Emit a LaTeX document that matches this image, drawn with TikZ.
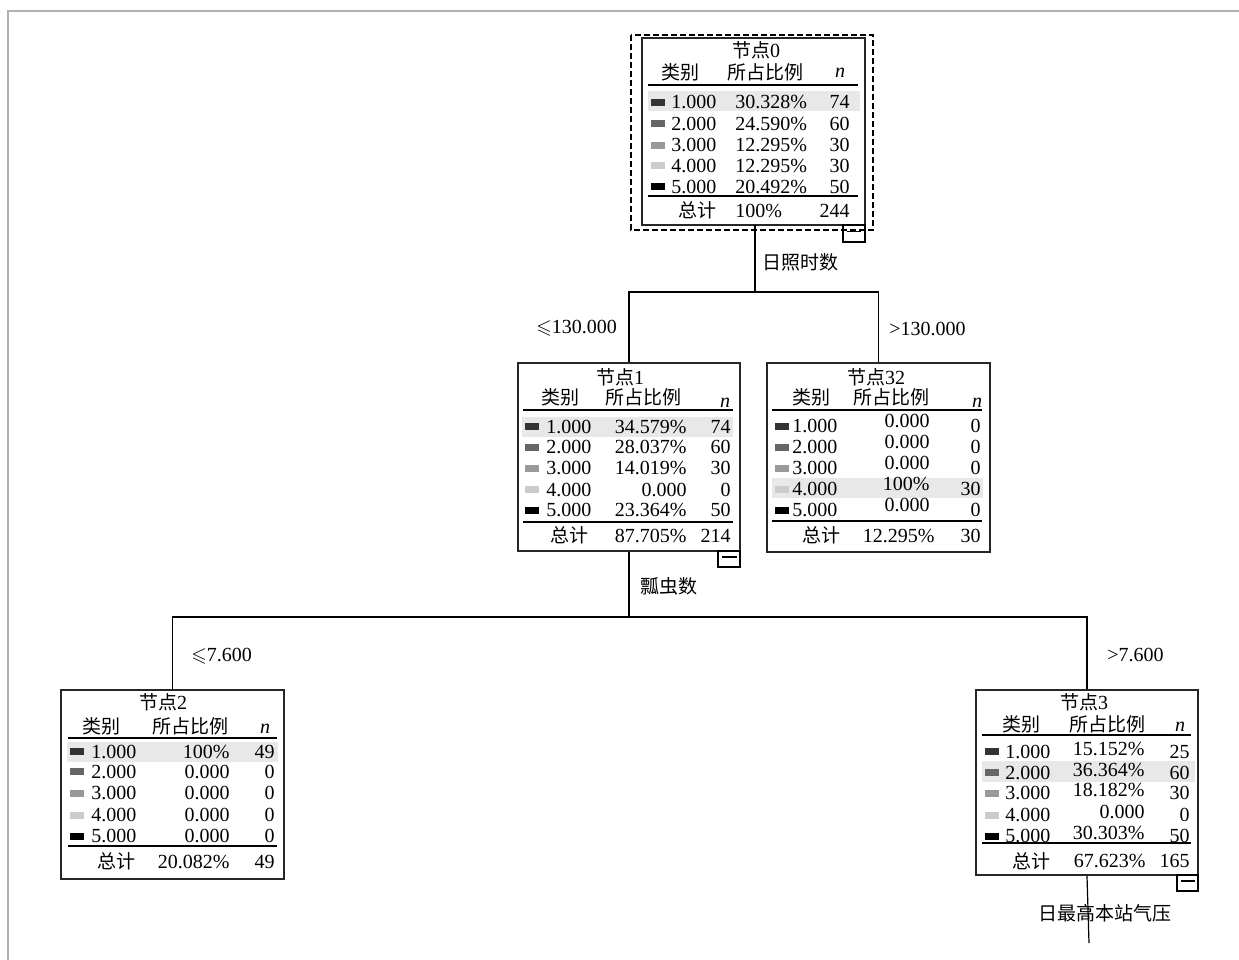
\documentclass[tikz,border=0pt]{standalone}
\usepackage{fontspec}
\usepackage{amssymb}
\setmainfont{Liberation Serif}
\newfontfamily\cjk{Noto Sans CJK SC}
\usetikzlibrary{fit}
\definecolor{sw1}{HTML}{333333}
\definecolor{sw2}{HTML}{666666}
\definecolor{sw3}{HTML}{999999}
\definecolor{sw4}{HTML}{CCCCCC}
\definecolor{sw5}{HTML}{000000}
\definecolor{bandc}{HTML}{E8E8E8}
\definecolor{framec}{HTML}{B0B0B0}
\newcommand\mkbox[5]{%
  \coordinate (#1nw) at (#2,#3);
  \coordinate (#1se) at (#4,#5);
  \node[tboxs, fit=(#1nw)(#1se)] (#1) {};}
\newcommand\crow[6]{%
  \fill[sw#2] (\SX,#3-3.5) rectangle (\SX+14,#3+3.5);
  \node[txt,anchor=base west] (#1l#2) at (\LX,#3+6.5) {#4};
  \node[txt,pcol] (#1p#2) at (\PX,#3+6.5+\PD) {#5};
  \node[txt,anchor=base east] (#1n#2) at (\NX,#3+6.5) {#6};}
\newcommand\hdr[6]{% prefix, y, x1, x2, xn, nbase
  \node[cj,anchor=west] (#1h1) at (#3,#2) {类别};
  \node[cj,anchor=west] (#1h2) at (#4,#2) {所占比例};
  \node[txt,anchor=base] (#1h3) at (#5,#6) {\textit{n}};}
\begin{document}
\begin{tikzpicture}[x=0.5pt,y=-0.5pt,
  txt/.style={inner sep=0pt, font=\fontsize{10}{12}\selectfont},
  cj/.style={inner sep=0pt, font=\cjk\fontsize{9.5}{11}\selectfont},
  tboxs/.style={draw=black!85, line width=0.8pt, inner sep=0pt},
  rule/.style={line width=0.65pt},
  conn/.style={line width=0.6pt},
  minusb/.style={line width=0.6pt},
  frame/.style={draw=framec, line width=1.2pt}]
\useasboundingbox (0,0) rectangle (1239,960);
\draw[frame] (7.7,960) -- (7.7,11) -- (1239,11);

% ---------------- node 0
\draw[line width=0.6pt, dash pattern=on 3pt off 1.5pt] (631,35) rectangle (873,230);
\mkbox{n0}{642}{38}{865}{225}
\fill[bandc] (648,91) rectangle (860,111);
\node[txt] (n0t) at (756,50) {{\cjk\fontsize{9.5}{11}\selectfont 节点}0};
\hdr{n0}{72}{661}{727}{840}{77}
\draw[rule] (648,85) -- (858,85);
\def\SX{651}\def\LX{671}\def\PX{735}\def\NX{850}\def\PD{0}
\tikzset{pcol/.style={anchor=base west}}
\crow{n0}{1}{102.3}{1.000}{30.328\%}{74}
\crow{n0}{2}{123.5}{2.000}{24.590\%}{60}
\crow{n0}{3}{145}{3.000}{12.295\%}{30}
\crow{n0}{4}{165.5}{4.000}{12.295\%}{30}
\crow{n0}{5}{186.5}{5.000}{20.492\%}{50}
\draw[rule] (648,196) -- (858,196);
\node[cj,anchor=west] (n0s) at (678,210) {总计};
\node[txt,anchor=base west] (n0sp) at (735,217) {100\%};
\node[txt,anchor=base east] (n0sn) at (850,217) {244};
\draw[minusb] (843,225) rectangle (865,242);
\draw[minusb] (847,231.5) -- (861,231.5);

% ---------------- node 1
\mkbox{n1}{518}{363}{740}{551}
\fill[bandc] (522,417) rectangle (733,437);
\node[txt] (n1t) at (620,377) {{\cjk\fontsize{9.5}{11}\selectfont 节点}1};
\hdr{n1}{397}{541}{605}{725}{407}
\draw[rule] (523,410) -- (733,410);
\def\SX{525}\def\LX{546}\def\PX{687}\def\NX{731}\def\PD{0}
\tikzset{pcol/.style={anchor=base east}}
\crow{n1}{1}{426.5}{1.000}{34.579\%}{74}
\crow{n1}{2}{447}{2.000}{28.037\%}{60}
\crow{n1}{3}{468}{3.000}{14.019\%}{30}
\crow{n1}{4}{489.5}{4.000}{0.000}{0}
\crow{n1}{5}{510}{5.000}{23.364\%}{50}
\draw[rule] (523,522) -- (733,522);
\node[cj,anchor=west] (n1s) at (550,535) {总计};
\node[txt,anchor=base east] (n1sp) at (687,542) {87.705\%};
\node[txt,anchor=base east] (n1sn) at (731,542) {214};
\draw[minusb] (718,551) rectangle (740,567);
\draw[minusb] (722,557) -- (737,557);

% ---------------- node 32
\mkbox{n32}{767}{363}{990}{552}
\fill[bandc] (772,478) rectangle (983,498);
\node[txt] (n32t) at (876,377) {{\cjk\fontsize{9.5}{11}\selectfont 节点}32};
\hdr{n32}{397}{792}{853}{977}{407}
\draw[rule] (772,410) -- (982,410);
\def\SX{775}\def\LX{792}\def\PX{930}\def\NX{981}\def\PD{-5}
\tikzset{pcol/.style={anchor=base east}}
\crow{n32}{1}{426}{1.000}{0.000}{0}
\crow{n32}{2}{447}{2.000}{0.000}{0}
\crow{n32}{3}{468}{3.000}{0.000}{0}
\crow{n32}{4}{489}{4.000}{100\%}{30}
\crow{n32}{5}{510}{5.000}{0.000}{0}
\draw[rule] (772,521) -- (982,521);
\node[cj,anchor=west] (n32s) at (802,535) {总计};
\node[txt,anchor=base east] (n32sp) at (935,542) {12.295\%};
\node[txt,anchor=base east] (n32sn) at (981,542) {30};

% ---------------- node 2
\mkbox{n2}{61}{690}{284}{879}
\fill[bandc] (67,742) rectangle (278,762);
\node[txt] (n2t) at (163,702) {{\cjk\fontsize{9.5}{11}\selectfont 节点}2};
\hdr{n2}{726}{82}{152}{265}{733}
\draw[rule] (68,738) -- (277,738);
\def\SX{70}\def\LX{91}\def\PX{230}\def\NX{275}\def\PD{0}
\tikzset{pcol/.style={anchor=base east}}
\crow{n2}{1}{751.5}{1.000}{100\%}{49}
\crow{n2}{2}{771.5}{2.000}{0.000}{0}
\crow{n2}{3}{793}{3.000}{0.000}{0}
\crow{n2}{4}{815}{4.000}{0.000}{0}
\crow{n2}{5}{836}{5.000}{0.000}{0}
\draw[rule] (68,846) -- (277,846);
\node[cj,anchor=west] (n2s) at (97,861.5) {总计};
\node[txt,anchor=base east] (n2sp) at (230,868) {20.082\%};
\node[txt,anchor=base east] (n2sn) at (275,868) {49};

% ---------------- node 3
\mkbox{n3}{976}{690}{1198}{875}
\fill[bandc] (982,761) rectangle (1195,782);
\node[txt] (n3t) at (1084,702) {{\cjk\fontsize{9.5}{11}\selectfont 节点}3};
\hdr{n3}{724}{1002}{1069}{1180}{731}
\draw[rule] (982,735) -- (1191,735);
\def\SX{985}\def\LX{1005}\def\PX{1145}\def\NX{1190}\def\PD{-3}
\tikzset{pcol/.style={anchor=base east}}
\crow{n3}{1}{751.5}{1.000}{15.152\%}{25}
\crow{n3}{2}{772.5}{2.000}{36.364\%}{60}
\crow{n3}{3}{793}{3.000}{18.182\%}{30}
\crow{n3}{4}{815}{4.000}{0.000}{0}
\crow{n3}{5}{836}{5.000}{30.303\%}{50}
\draw[rule] (982,843) -- (1191,843);
\node[cj,anchor=west] (n3s) at (1012,861) {总计};
\node[txt,anchor=base east] (n3sp) at (1146,867) {67.623\%};
\node[txt,anchor=base east] (n3sn) at (1190,867) {165};
\draw[minusb] (1177,875) rectangle (1198,891);
\draw[minusb] (1181,881) -- (1195,881);

% ---------------- connectors
\coordinate (j0) at (755,292);
\coordinate (j1) at (629,617);
\coordinate (e3) at (1089,943);
\draw[conn] (755,225) -- (j0);
\draw[conn] (n1.north) -- (n1.north |- j0) -- (n32.north |- j0) -- (n32.north);
\draw[conn] (n1.south) -- (j1);
\draw[conn] (n2.north) -- (n2.north |- j1) -- (n3.north |- j1) -- (n3.north);
\draw[conn] (n3.south) -- (e3);

% ---------------- labels
\node[cj,anchor=west] (l0) at (762,262) {日照时数};
\node[txt,anchor=base west] (l1) at (536,333) {$\leqslant$130.000};
\node[txt,anchor=base west] (l2) at (889,335) {>130.000};
\node[cj,anchor=west] (l3) at (640,586) {瓢虫数};
\node[txt,anchor=base west] (l4) at (191,661) {$\leqslant$7.600};
\node[txt,anchor=base west] (l5) at (1107,661) {>7.600};
\node[cj,anchor=west] (l6) at (1038,913) {日最高本站气压};
\end{tikzpicture}
\end{document}
